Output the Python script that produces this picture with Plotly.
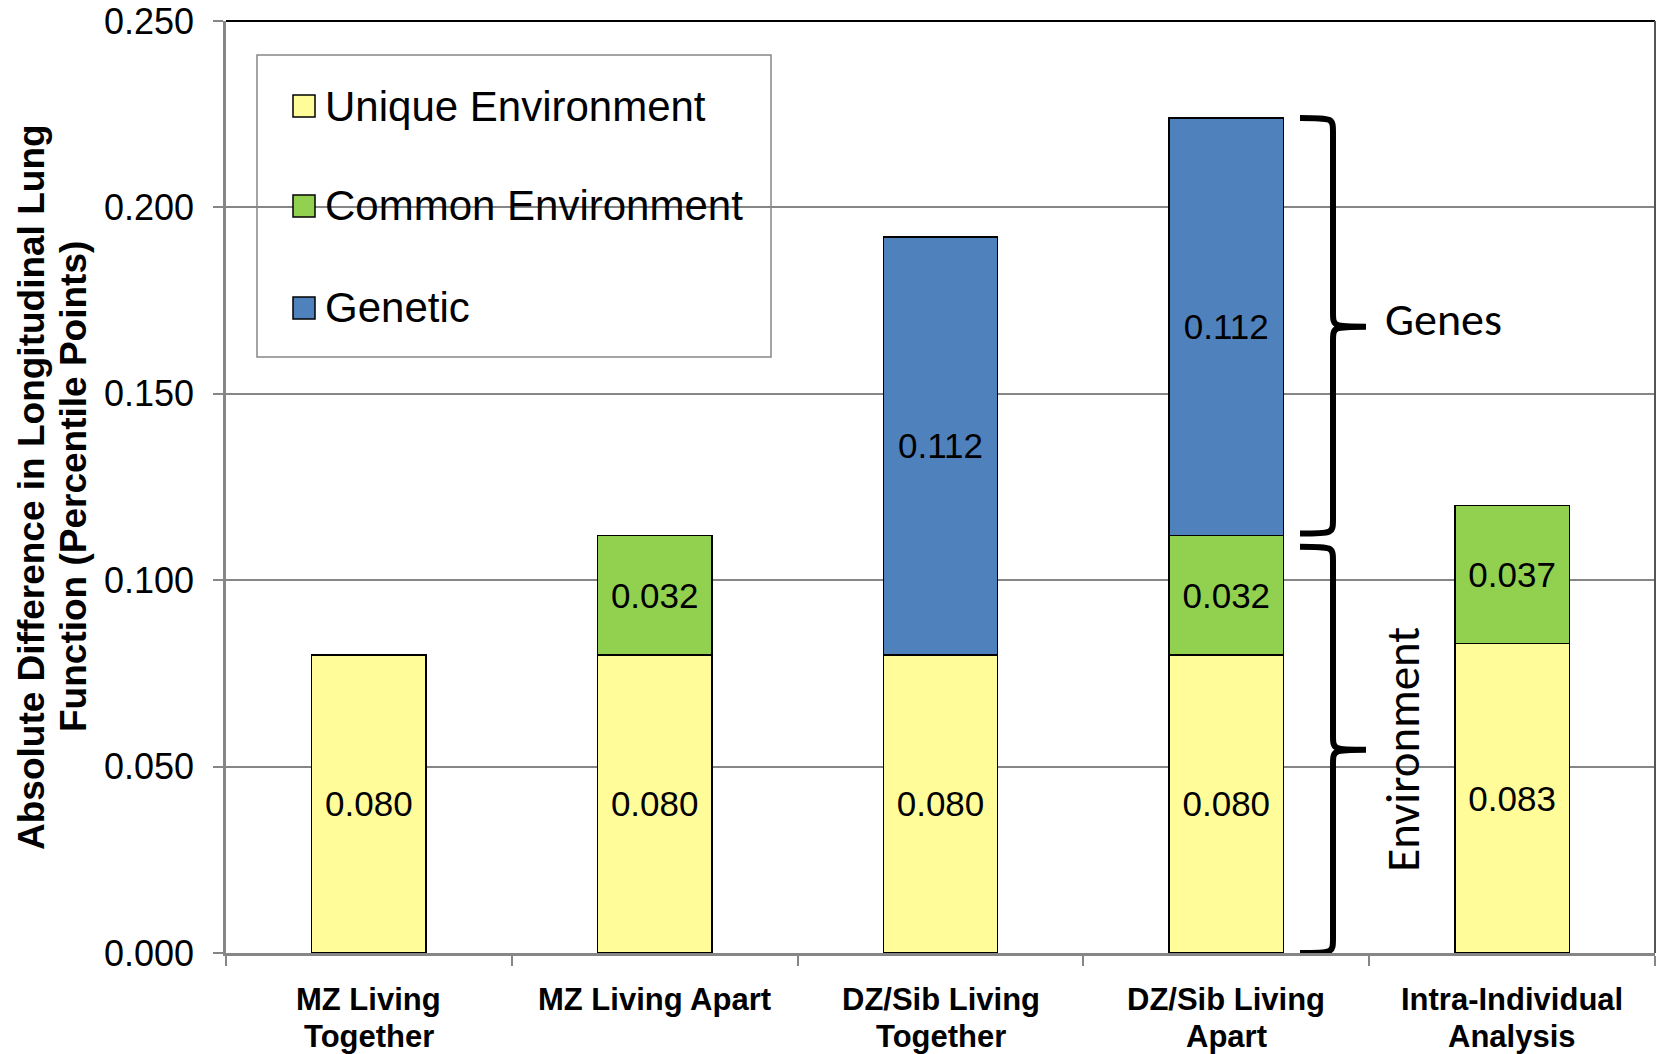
import plotly.graph_objects as go

# Variance components of longitudinal lung-function differences by pair type
categories = [
    "MZ Living<br>Together",
    "MZ Living Apart",
    "DZ/Sib Living<br>Together",
    "DZ/Sib Living<br>Apart",
    "Intra-Individual<br>Analysis",
]
unique_env = [0.080, 0.080, 0.080, 0.080, 0.083]
common_env = [None, 0.032, None, 0.032, 0.037]
genetic = [None, None, 0.112, 0.112, None]

series_names = ["Unique Environment", "Common Environment", "Genetic"]
series_values = [unique_env, common_env, genetic]
series_colors = ["#FFFC99", "#92D050", "#4F81BD"]

y_ticks = [0.0, 0.05, 0.10, 0.15, 0.20, 0.25]

ARIAL = "Liberation Sans, Arial, sans-serif"
HUMANIST = "Carlito, Calibri, Lato, sans-serif"

W, H = 1657, 1054
M_L, M_R, M_T, M_B = 226, 2, 21, 101
plot_w = W - M_L - M_R
plot_h = H - M_T - M_B


def px_x(px):
    """Figure pixel column -> paper x."""
    return (px - M_L) / plot_w


def px_y(px):
    """Figure pixel row -> paper y."""
    return 1 - (px - M_T) / plot_h


fig = go.Figure()
for name, vals, color in zip(series_names, series_values, series_colors):
    fig.add_trace(
        go.Bar(
            x=categories,
            y=vals,
            name=name,
            marker=dict(color=color, line=dict(color="#000000", width=1.5)),
            texttemplate="%{y:.3f}",
            textposition="inside",
            insidetextanchor="middle",
            textangle=0,
            constraintext="none",
            textfont=dict(family=ARIAL, size=35, color="#000000"),
            showlegend=False,
        )
    )

shapes = []
annotations = []

# Category labels, one annotation per line for tight line spacing
cat_line_offsets = [46, 83]  # pixels below the x-axis line
for cat in categories:
    for line_text, off in zip(cat.split("<br>"), cat_line_offsets):
        annotations.append(dict(
            text=line_text, xref="x", yref="paper", x=cat, y=0,
            yshift=-off, xanchor="center", yanchor="middle", showarrow=False,
            font=dict(family=ARIAL, size=31, color="#000000", weight="bold"),
        ))

# Legend box drawn over the plot area
shapes.append(dict(
    type="rect", xref="paper", yref="paper", layer="above",
    x0=px_x(257), x1=px_x(771), y0=px_y(357), y1=px_y(55),
    line=dict(color="#868686", width=1.5), fillcolor="rgba(0,0,0,0)",
))
legend_rows = [106, 206, 308]
sq = 22
for name, color, row in zip(series_names, series_colors, legend_rows):
    shapes.append(dict(
        type="rect", xref="paper", yref="paper", layer="above",
        x0=px_x(304 - sq / 2), x1=px_x(304 + sq / 2),
        y0=px_y(row + sq / 2), y1=px_y(row - sq / 2),
        line=dict(color="#000000", width=1.5), fillcolor=color,
    ))
    annotations.append(dict(
        text=name, xref="paper", yref="paper", x=px_x(323), y=px_y(row),
        xanchor="left", yanchor="middle", showarrow=False,
        font=dict(family=ARIAL, size=42, color="#000000"),
    ))

# Plot-area frame: black top edge, dark right edge
shapes.append(dict(type="line", xref="paper", yref="paper", x0=0, x1=1, y0=1, y1=1,
                   line=dict(color="#000000", width=2), layer="above"))
shapes.append(dict(type="line", xref="paper", yref="paper", x0=1, x1=1, y0=0, y1=1,
                   line=dict(color="#555555", width=2), layer="above"))


def brace_path(x_tip, x_spine, x_point, y_top, y_bot, y_mid, r):
    return (
        f"M {x_tip},{y_top} "
        f"C {x_spine},{y_top} {x_spine},{y_top} {x_spine},{y_top - r} "
        f"L {x_spine},{y_mid + r} "
        f"C {x_spine},{y_mid} {x_spine},{y_mid} {x_point},{y_mid} "
        f"C {x_spine},{y_mid} {x_spine},{y_mid} {x_spine},{y_mid - r} "
        f"L {x_spine},{y_bot + r} "
        f"C {x_spine},{y_bot} {x_spine},{y_bot} {x_tip},{y_bot}"
    )


# Braces beside the DZ/Sib Living Apart bar
env_total = unique_env[3] + common_env[3]
gene_top = env_total + genetic[3]
gene_mid = env_total + genetic[3] / 2
env_mid = (env_total - 0.003) / 2
xt, xs, xp = px_x(1300), px_x(1333), px_x(1366)
r = 0.004
shapes.append(dict(type="path", xref="paper", yref="y", layer="above",
                   path=brace_path(xt, xs, xp, gene_top, env_total + 0.0005, gene_mid, r),
                   line=dict(color="#000000", width=6)))
shapes.append(dict(type="path", xref="paper", yref="y", layer="above",
                   path=brace_path(xt, xs, xp, env_total - 0.003, 0.0, env_mid, r),
                   line=dict(color="#000000", width=6)))

annotations.append(dict(
    text="Genes", xref="paper", yref="y", x=px_x(1443), y=gene_mid,
    xanchor="center", yanchor="middle", showarrow=False, yshift=8,
    font=dict(family=HUMANIST, size=46, color="#000000"),
))
annotations.append(dict(
    text="Environment", xref="paper", yref="y", x=px_x(1403), y=env_mid,
    xanchor="center", yanchor="middle", showarrow=False, textangle=-90,
    font=dict(family=HUMANIST, size=47, color="#000000"),
))

# Two-line y-axis title
for line_text, cx in [("Absolute Difference in Longitudinal Lung", 31),
                      ("Function (Percentile Points)", 73)]:
    annotations.append(dict(
        text=line_text, xref="paper", yref="paper", x=0, y=0.5,
        xshift=cx - M_L, xanchor="center", yanchor="middle",
        textangle=-90, showarrow=False,
        font=dict(family=ARIAL, size=37, color="#000000", weight="bold"),
    ))

fig.update_layout(
    width=W, height=H,
    margin=dict(l=M_L, r=M_R, t=M_T, b=M_B, pad=0),
    paper_bgcolor="#FFFFFF", plot_bgcolor="#FFFFFF",
    barmode="stack", bargap=0.6,
    showlegend=False,
    shapes=shapes, annotations=annotations,
    xaxis=dict(
        type="category", tickson="boundaries", automargin=False,
        showline=True, linecolor="#868686", linewidth=3,
        ticks="outside", ticklen=10, tickwidth=1.5, tickcolor="#868686",
        showgrid=False, showticklabels=False,
    ),
    yaxis=dict(
        range=[0, 0.25], tickvals=y_ticks, tickformat=".3f", automargin=False,
        showline=True, linecolor="#868686", linewidth=2.5,
        ticks="outside", ticklen=10, tickwidth=1.5, tickcolor="#868686",
        showgrid=True, gridcolor="#868686", gridwidth=1.5,
        zeroline=False,
        tickfont=dict(family=ARIAL, size=36, color="#000000"),
        ticklabelstandoff=12,
    ),
)

fig.write_html("out.html")
